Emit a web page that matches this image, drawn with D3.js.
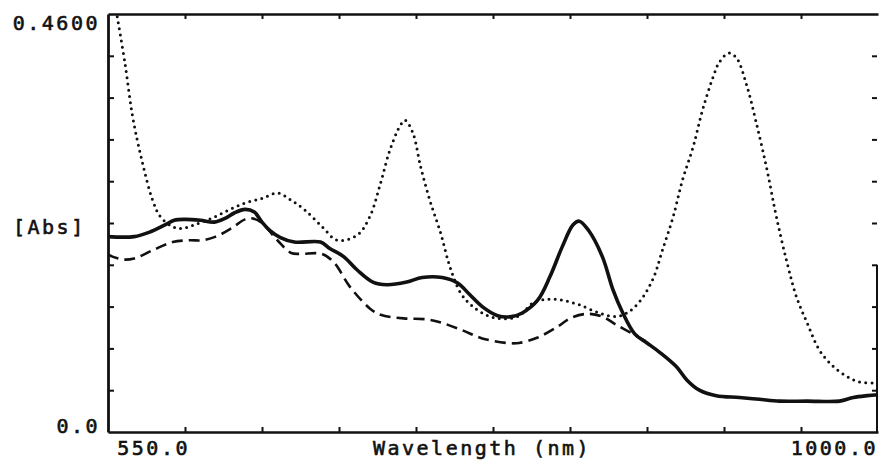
<!DOCTYPE html>
<html>
<head>
<meta charset="utf-8">
<script src="https://cdn.jsdelivr.net/npm/d3@7"></script>
<style>
  body { margin: 0; background: #fff; }
  svg { display: block; }
  .lbl { font-family: "DejaVu Sans Mono", monospace; font-size: 20px; letter-spacing: 2.5px; fill: #111; stroke: #111; stroke-width: 0.6px; }
  .axis path, .axis line { stroke: #111; }
</style>
</head>
<body>
<div id="target"></div>
<script>
// wavelength (nm) and absorbance
const solid = [
  [500,0.215],[517,0.215],[527,0.220],[537,0.228],[543,0.233],[550,0.234],[560,0.233],
  [569,0.231],[576,0.235],[582,0.241],[589,0.245],[595,0.242],[600,0.231],[605,0.222],
  [612,0.214],[621,0.209],[638,0.209],[644,0.202],[653,0.193],[662,0.178],[672,0.165],
  [681,0.162],[694,0.165],[704,0.170],[717,0.170],[727,0.164],[735,0.151],[743,0.138],
  [753,0.128],[762,0.127],[769,0.131],[779,0.145],[787,0.171],[795,0.204],[802,0.228],
  [806,0.232],[812,0.222],[821,0.193],[828,0.156],[834,0.132],[842,0.108],[850,0.098],
  [858,0.088],[869,0.072],[876,0.057],[884,0.046],[895,0.040],[910,0.038],[923,0.036],
  [936,0.034],[954,0.034],[975,0.034],[984,0.038],[993,0.040],[1000,0.041]
];
const dashed = [
  [500,0.195],[509,0.190],[517,0.191],[529,0.200],[542,0.209],[553,0.211],[561,0.211],
  [570,0.215],[580,0.224],[589,0.234],[594,0.235],[600,0.230],[610,0.211],[619,0.197],
  [625,0.196],[639,0.196],[647,0.186],[657,0.160],[670,0.136],[677,0.129],[692,0.125],
  [707,0.124],[717,0.120],[730,0.112],[743,0.103],[759,0.098],[767,0.098],[779,0.104],
  [792,0.116],[800,0.125],[811,0.130],[821,0.127],[830,0.118],[842,0.107],[849,0.100]
];
const dotted = [
  [506,0.457],[511,0.406],[516,0.347],[522,0.299],[529,0.255],[534,0.237],[542,0.226],
  [548,0.224],[556,0.228],[567,0.235],[578,0.244],[589,0.252],[600,0.257],[610,0.263],
  [619,0.255],[628,0.244],[639,0.226],[649,0.211],[662,0.217],[670,0.237],[677,0.274],
  [683,0.310],[690,0.338],[693,0.343],[698,0.329],[703,0.292],[709,0.255],[716,0.219],
  [722,0.182],[729,0.153],[737,0.138],[750,0.126],[766,0.127],[776,0.142],[785,0.146],
  [795,0.145],[806,0.140],[819,0.131],[830,0.127],[837,0.131],[845,0.143],[854,0.169],
  [860,0.200],[867,0.237],[873,0.277],[880,0.314],[886,0.354],[893,0.391],[897,0.407],
  [903,0.417],[908,0.412],[915,0.380],[921,0.340],[928,0.288],[934,0.237],[941,0.186],
  [947,0.149],[954,0.120],[962,0.090],[971,0.072],[980,0.061],[988,0.055],[998,0.054]
];
const xTicks = [550, 600, 650, 700, 750, 800, 850, 900, 950, 1000];
const yTicks = [0, 0.046, 0.092, 0.138, 0.184, 0.23, 0.276, 0.322, 0.368, 0.414, 0.46];

const width = 879;
const height = 460;
const margin = {'top': 14, 'right': 1, 'bottom': 28, 'left': 108};

const svg = d3.select('#target')
  .append('svg')
  .attr('width', width)
  .attr('height', height);

const x = d3.scaleLinear()
  .domain([500, 1000])
  .range([margin.left, width - margin.right]);

const y = d3.scaleLinear()
  .domain([0, 0.46])
  .range([height - margin.bottom, margin.top]);

const line = d3.line()
  .x((d) => x(d[0]))
  .y((d) => y(d[1]))
  .curve(d3.curveCatmullRom.alpha(0.5));

// frame + ticks (ticks point inward)
const axis = svg.append('g').attr('class', 'axis');

axis.append('g')
  .attr('transform', `translate(0,${y(0)})`)
  .call(d3.axisBottom(x).tickValues(xTicks.slice(0, -1)).tickSize(-5).tickSizeOuter(0).tickFormat(''))
  .call((g) => g.select('.domain').attr('stroke-width', 2.6))
  .call((g) => g.selectAll('.tick line').attr('stroke-width', 2));

axis.append('g')
  .attr('transform', `translate(0,${y(0.46)})`)
  .call(d3.axisTop(x).tickValues(xTicks.slice(0, -1)).tickSize(-5).tickSizeOuter(0).tickFormat(''))
  .call((g) => g.select('.domain').attr('stroke-width', 2.6))
  .call((g) => g.selectAll('.tick line').attr('stroke-width', 2));

axis.append('g')
  .attr('transform', `translate(${x(500)},0)`)
  .call(d3.axisLeft(y).tickValues(yTicks.slice(1, -1)).tickSize(-6).tickSizeOuter(0).tickFormat(''))
  .call((g) => g.select('.domain').attr('stroke-width', 2.8))
  .call((g) => g.selectAll('.tick line').attr('stroke-width', 2));

axis.append('g')
  .attr('transform', `translate(${x(1000) - 1},0)`)
  .call(d3.axisRight(y).tickValues(yTicks.slice(1, -1)).tickSize(-5).tickFormat(''))
  .call((g) => g.select('.domain').remove())
  .call((g) => g.selectAll('.tick line').attr('stroke-width', 2));

// right edge only shows on the lower part of the scan
axis.append('line')
  .attr('x1', x(1000) - 1).attr('x2', x(1000) - 1)
  .attr('y1', y(0.184)).attr('y2', y(0))
  .attr('stroke', '#111')
  .attr('stroke-width', 2);

// curves
const paths = svg.append('g').attr('fill', 'none').attr('stroke', '#111');

paths.append('path')
  .datum(dotted)
  .attr('d', line)
  .attr('stroke-width', 3)
  .attr('stroke-linecap', 'round')
  .attr('stroke-dasharray', '0,6.2');

paths.append('path')
  .datum(dashed)
  .attr('d', line)
  .attr('stroke-width', 2.6)
  .attr('stroke-dasharray', '11,6');

paths.append('path')
  .datum(solid)
  .attr('d', line)
  .attr('stroke-width', 3.6)
  .attr('stroke-linejoin', 'round');

// labels
svg.append('text').attr('class', 'lbl')
  .attr('x', 100).attr('y', y(0.46) + 16)
  .attr('text-anchor', 'end')
  .text('0.4600');

svg.append('text').attr('class', 'lbl')
  .attr('x', 100).attr('y', y(0) + 1)
  .attr('text-anchor', 'end')
  .text('0.0');

svg.append('text').attr('class', 'lbl')
  .attr('x', 13).attr('y', y(0.218))
  .text('[Abs]');

svg.append('text').attr('class', 'lbl')
  .attr('x', x(550) + 5).attr('y', 455)
  .attr('text-anchor', 'end')
  .text('550.0');

svg.append('text').attr('class', 'lbl')
  .attr('x', x(1000)).attr('y', 455)
  .attr('text-anchor', 'end')
  .text('1000.0');

svg.append('text').attr('class', 'lbl')
  .attr('x', 482).attr('y', 455)
  .attr('text-anchor', 'middle')
  .text('Wavelength (nm)');
</script>
</body>
</html>
